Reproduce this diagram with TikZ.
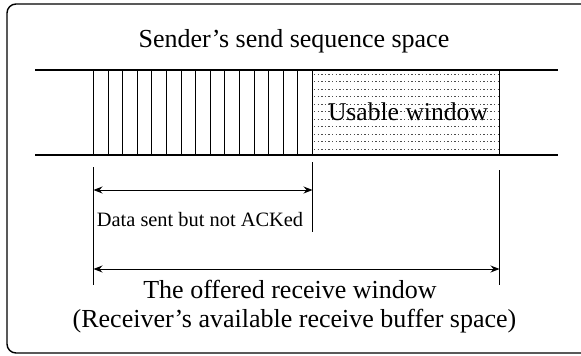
\documentclass[tikz,border=0pt]{standalone}
\usepackage{fontspec}
\setmainfont{Liberation Serif}
\usetikzlibrary{arrows.meta}
\tikzset{
  frame/.style={line width=1.4pt, rounded corners=9pt},
  band/.style={line width=1.2pt},
  hatch/.style={line width=1.2pt},
  tick/.style={line width=1.2pt},
  dots/.style={line width=0.9pt, black!70, dash pattern=on 1.4pt off 2.2pt},
  dim/.style={line width=0.9pt, {Stealth[length=9pt,width=7pt,inset=3pt]}-{Stealth[length=9pt,width=7pt,inset=3pt]}},
  bigtxt/.style={inner sep=0pt, anchor=base, font=\fontsize{26}{30}\selectfont},
  smalltxt/.style={inner sep=0pt, anchor=base, font=\fontsize{20.4}{24}\selectfont},
}
\begin{document}
\begin{tikzpicture}[x=1pt, y=-1pt]
\useasboundingbox (0,0) rectangle (581,356);
% outer frame (right side lies outside the picture)
\draw[frame] (600,4) -- (7,4) -- (7,353) -- (600,353);

% band coordinates
\coordinate (bandTL) at (35,70);
\coordinate (bandTR) at (558,70);
\coordinate (bandBL) at (35,155);
\coordinate (bandBR) at (558,155);

% usable window dots
\foreach \y in {74,81.5,89,96.5,104,111.5,119,126.5,134,141.5,149}
  \draw[dots] (314,\y) -- (498,\y);

% hatched lines (data sent)
\foreach \x in {93.5,108.5,122.5,137.5,151.5,166.5,181.5,195.5,210.5,224.5,239.5,254.5,268.5,283.5,297.5,312.5}
  \draw[hatch] (\x,70) -- (\x,155);
% usable window right edge
\draw[hatch] (499.5,70) -- (499.5,155);

\draw[band] (bandTL) -- (bandTR);
\draw[band] (bandBL) -- (bandBR);

% texts
\node[bigtxt] (title) at (294,47) {Sender's send sequence space};
\node[bigtxt, font=\fontsize{25.6}{30}\selectfont] (usable) at (408,120) {Usable window};
\node[smalltxt] (datasent) at (200,226.5) {Data sent but not ACKed};
\node[bigtxt] (offered) at (290,298) {The offered receive window};
\node[bigtxt] (recv) at (294.5,327) {(Receiver's available receive buffer space)};

% ticks
\coordinate (t1a) at (93.5,167);  \coordinate (t1b) at (93.5,285);
\coordinate (t2a) at (312.5,162); \coordinate (t2b) at (312.5,232);
\coordinate (t3a) at (499.5,170); \coordinate (t3b) at (499.5,285);
\draw[tick] (t1a) -- (t1b);
\draw[tick] (t2a) -- (t2b);
\draw[tick] (t3a) -- (t3b);

% dimension arrows
\coordinate (d1l) at (93.5,190);  \coordinate (d1r) at (312.5,190);
\coordinate (d2l) at (93.5,269);  \coordinate (d2r) at (499.5,269);
\draw[dim] (d1l) -- (d1r);
\draw[dim] (d2l) -- (d2r);
\end{tikzpicture}
\end{document}
